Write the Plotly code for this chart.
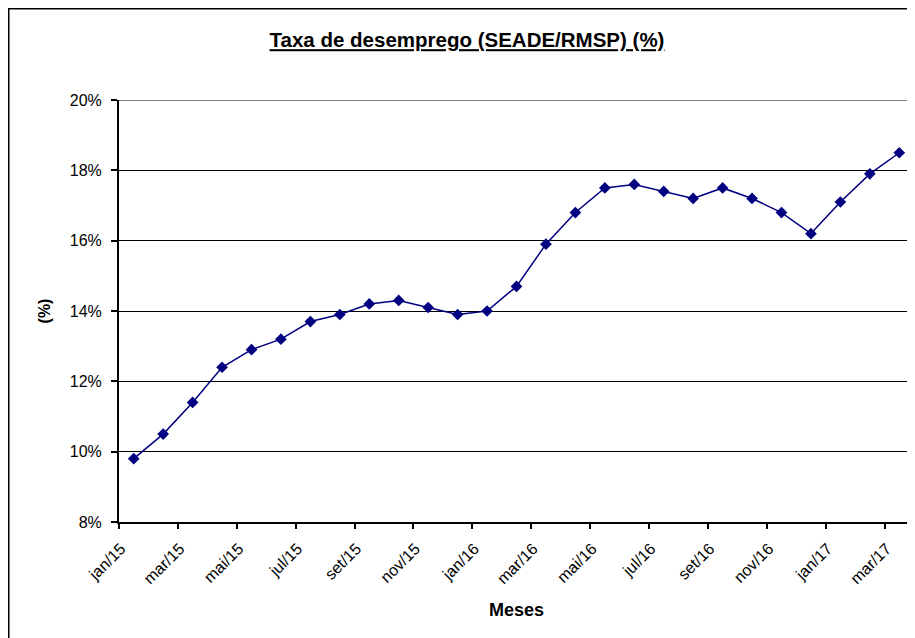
import plotly.graph_objects as go

months = ["jan/15", "fev/15", "mar/15", "abr/15", "mai/15", "jun/15", "jul/15", "ago/15",
          "set/15", "out/15", "nov/15", "dez/15", "jan/16", "fev/16", "mar/16", "abr/16",
          "mai/16", "jun/16", "jul/16", "ago/16", "set/16", "out/16", "nov/16", "dez/16",
          "jan/17", "fev/17", "mar/17"]
rate = [9.8, 10.5, 11.4, 12.4, 12.9, 13.2, 13.7, 13.9, 14.2, 14.3, 14.1, 13.9, 14.0, 14.7,
        15.9, 16.8, 17.5, 17.6, 17.4, 17.2, 17.5, 17.2, 16.8, 16.2, 17.1, 17.9, 18.5]
y_ticks = [8, 10, 12, 14, 16, 18, 20]
tick_labels = months[::2]

x = list(range(len(months)))
tick_pos = [i - 0.5 for i in range(0, len(months), 2)]

# page body adds an 8px offset, so the figure fills the rest of the 915x638 window
W, H = 907, 630
L, R, T, B = 111, 1, 92, 116
pw, ph = W - L - R, H - T - B

def px_to_paper_x(px):
    return (px - L) / pw

def px_to_paper_y(py):
    return (H - B - py) / ph

fig = go.Figure()
fig.add_trace(go.Scatter(
    x=x, y=rate, mode="lines+markers",
    line=dict(color="#000080", width=1.5),
    marker=dict(symbol="diamond", size=9, color="#000080"),
    hoverinfo="skip", showlegend=False,
))

fig.update_layout(
    width=W, height=H,
    margin=dict(l=L, r=R, t=T, b=B),
    paper_bgcolor="white", plot_bgcolor="white",
    font=dict(family="Liberation Sans, Arial, sans-serif", color="black"),
    title=dict(text="<b><u>Taxa de desemprego (SEADE/RMSP) (%)</u></b>",
               x=459 / W, xanchor="center", xref="container",
               y=1 - 32 / H, yanchor="middle",
               font=dict(size=20.5, color="black")),
    xaxis=dict(
        range=[-0.5, len(months) - 0.5],
        tickmode="array", tickvals=tick_pos, ticktext=tick_labels,
        tickangle=-45, tickfont=dict(size=16),
        ticks="outside", ticklen=5, tickwidth=1.5, tickcolor="black",
        ticklabelshift=2, ticklabelstandoff=4,
        showline=True, linecolor="black", linewidth=2,
        showgrid=False, zeroline=False,
        title=dict(text="<b>Meses</b>", font=dict(size=18), standoff=17),
    ),
    yaxis=dict(
        range=[8, 20],
        tickmode="array", tickvals=y_ticks,
        ticktext=[f"{v}%" for v in y_ticks],
        tickfont=dict(size=16),
        ticks="outside", ticklen=6, tickwidth=1.5, tickcolor="black",
        ticklabelstandoff=6,
        showline=True, linecolor="black", linewidth=2,
        showgrid=True, gridcolor="black", gridwidth=1.2,
        zeroline=False,
        title=dict(text="<b>(%)</b>", font=dict(size=16), standoff=15),
    ),
)

# gray top border of plot area (20%)
fig.add_shape(type="line", xref="paper", yref="y", x0=0, x1=1, y0=20, y1=20,
              line=dict(color="#808080", width=2), layer="above")

# chart outer border (figure edge)
fig.add_shape(type="rect", xref="paper", yref="paper",
              x0=px_to_paper_x(0.5), x1=px_to_paper_x(W + 20),
              y0=px_to_paper_y(H + 20), y1=px_to_paper_y(0.5),
              line=dict(color="black", width=2), fillcolor="rgba(0,0,0,0)", layer="above")

fig.write_html("out.html")
